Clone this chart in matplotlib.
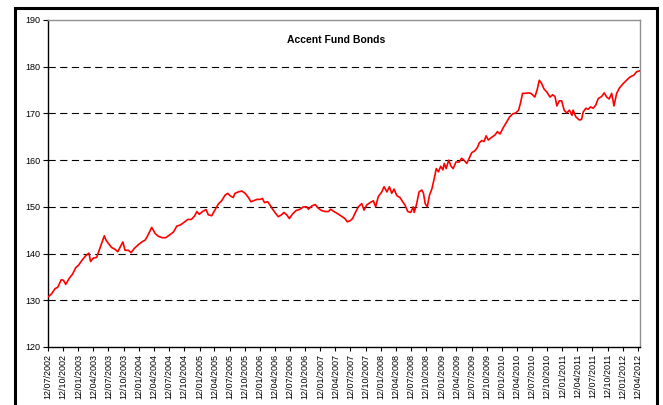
import matplotlib
matplotlib.use("Agg")
import matplotlib.pyplot as plt
from matplotlib.patches import Rectangle
import pandas as pd

title = "Accent Fund Bonds"

dates = [
    "2002-07-12", "2002-08-03", "2002-08-24", "2002-09-09", "2002-09-30", "2002-10-13", "2002-10-27",
    "2002-11-17", "2002-12-07", "2002-12-27", "2003-01-12", "2003-02-05", "2003-02-26", "2003-03-16",
    "2003-03-26", "2003-04-11", "2003-05-02", "2003-05-17", "2003-06-04", "2003-06-17", "2003-06-27",
    "2003-07-11", "2003-07-31", "2003-08-21", "2003-09-06", "2003-09-21", "2003-10-07", "2003-10-20",
    "2003-11-09", "2003-11-26", "2003-12-15", "2004-01-05", "2004-01-30", "2004-02-19", "2004-03-06",
    "2004-03-29", "2004-04-19", "2004-05-08", "2004-06-01", "2004-06-22", "2004-07-12", "2004-08-07",
    "2004-08-28", "2004-09-17", "2004-10-07", "2004-11-02", "2004-11-23", "2004-12-12", "2004-12-27",
    "2005-01-10", "2005-01-30", "2005-02-20", "2005-03-06", "2005-03-26", "2005-04-16", "2005-05-05",
    "2005-05-25", "2005-06-15", "2005-07-01", "2005-07-15", "2005-08-03", "2005-08-14", "2005-09-03",
    "2005-09-24", "2005-10-14", "2005-11-03", "2005-11-18", "2005-12-04", "2005-12-24", "2006-01-13",
    "2006-01-27", "2006-02-08", "2006-02-27", "2006-03-13", "2006-03-29", "2006-04-12", "2006-05-02",
    "2006-05-22", "2006-06-05", "2006-06-22", "2006-07-08", "2006-07-28", "2006-08-17", "2006-09-11",
    "2006-10-01", "2006-10-21", "2006-10-31", "2006-11-21", "2006-12-11", "2006-12-30", "2007-01-20",
    "2007-02-09", "2007-03-02", "2007-03-14", "2007-04-03", "2007-04-23", "2007-05-19", "2007-06-08",
    "2007-06-23", "2007-07-09", "2007-07-25", "2007-08-08", "2007-08-28", "2007-09-18", "2007-10-02",
    "2007-10-18", "2007-11-07", "2007-11-27", "2007-12-11", "2007-12-27", "2008-01-17", "2008-01-31",
    "2008-02-17", "2008-03-03", "2008-03-17", "2008-03-31", "2008-04-17", "2008-05-06", "2008-05-22",
    "2008-06-05", "2008-06-22", "2008-07-10", "2008-07-25", "2008-07-31", "2008-08-15", "2008-08-29",
    "2008-09-15", "2008-09-25", "2008-10-05", "2008-10-18", "2008-10-31", "2008-11-15", "2008-11-29",
    "2008-12-11", "2008-12-24", "2009-01-07", "2009-01-20", "2009-01-28", "2009-02-09", "2009-02-24",
    "2009-03-10", "2009-03-23", "2009-04-09", "2009-04-29", "2009-05-13", "2009-05-27", "2009-06-13",
    "2009-06-28", "2009-07-13", "2009-08-01", "2009-08-16", "2009-08-28", "2009-09-12", "2009-09-26",
    "2009-10-08", "2009-10-21", "2009-11-11", "2009-12-01", "2009-12-15", "2009-12-31", "2010-01-17",
    "2010-02-06", "2010-02-26", "2010-03-17", "2010-04-05", "2010-04-22", "2010-05-04", "2010-05-16",
    "2010-06-05", "2010-06-19", "2010-07-04", "2010-07-15", "2010-07-29", "2010-08-13", "2010-08-25",
    "2010-09-08", "2010-09-23", "2010-10-09", "2010-10-29", "2010-11-14", "2010-11-28", "2010-12-09",
    "2010-12-24", "2011-01-07", "2011-01-22", "2011-02-07", "2011-02-23", "2011-03-10", "2011-03-17",
    "2011-04-02", "2011-04-23", "2011-05-07", "2011-05-17", "2011-06-02", "2011-06-16", "2011-07-01",
    "2011-07-16", "2011-08-01", "2011-08-16", "2011-09-05", "2011-09-21", "2011-10-06", "2011-10-21",
    "2011-11-05", "2011-11-19", "2011-12-05", "2011-12-21", "2012-01-11", "2012-01-31", "2012-02-20",
    "2012-03-06", "2012-03-18", "2012-04-03", "2012-04-20",
]

values = [
    130.7, 131.4, 132.5, 132.8, 134.4, 134.3, 133.4,
    134.7, 135.6, 137.0, 137.5, 138.7, 139.6, 140.1,
    138.3, 139.0, 139.2, 140.7, 142.5, 143.8, 142.9,
    142.2, 141.3, 140.9, 140.4, 141.4, 142.5, 140.7,
    140.7, 140.2, 141.1, 141.8, 142.5, 142.9, 143.9,
    145.6, 144.3, 143.7, 143.4, 143.4, 143.9, 144.6,
    145.9, 146.1, 146.6, 147.3, 147.3, 148.0, 149.0,
    148.4, 149.0, 149.4, 148.3, 148.1, 149.4, 150.6,
    151.3, 152.5, 152.9, 152.4, 152.0, 152.9, 153.2,
    153.4, 152.9, 152.0, 151.1, 151.3, 151.6, 151.6,
    151.8, 150.9, 151.1, 150.4, 149.5, 148.8, 147.9,
    148.3, 148.8, 148.3, 147.5, 148.5, 149.2, 149.5,
    150.0, 150.0, 149.5, 150.2, 150.5, 149.7, 149.2,
    149.0, 149.0, 149.5, 149.0, 148.6, 148.0, 147.5,
    146.8, 147.0, 147.5, 148.6, 150.0, 150.7, 149.3,
    150.4, 150.9, 151.3, 150.0, 152.2, 153.2, 154.3,
    153.2, 154.3, 152.9, 153.8, 152.4, 152.0, 151.1,
    150.4, 149.0, 148.8, 150.0, 148.8, 150.7, 153.2,
    153.6, 152.9, 150.7, 150.0, 152.5, 153.9, 156.1,
    158.2, 157.5, 158.7, 157.9, 159.3, 158.2, 160.0,
    158.7, 158.2, 159.6, 159.6, 160.4, 160.0, 159.3,
    160.4, 161.6, 162.0, 162.7, 163.7, 164.2, 164.0,
    165.2, 164.3, 164.9, 165.4, 166.1, 165.6, 166.8,
    168.0, 169.2, 169.9, 170.1, 170.7, 172.3, 174.3,
    174.3, 174.4, 174.3, 174.0, 173.5, 175.2, 177.1,
    176.4, 175.2, 174.6, 173.5, 174.0, 173.6, 171.6,
    172.7, 172.7, 170.7, 170.1, 170.7, 169.6, 170.7,
    169.3, 168.6, 168.7, 170.3, 171.1, 170.9, 171.4,
    171.1, 171.8, 173.2, 173.6, 174.4, 173.5, 173.1,
    174.3, 171.6, 174.3, 175.4, 176.3, 177.0, 177.7,
    178.0, 178.2, 178.9, 179.1,
]

tick_labels = [
    "12/07/2002", "12/10/2002",
    "12/01/2003", "12/04/2003", "12/07/2003", "12/10/2003",
    "12/01/2004", "12/04/2004", "12/07/2004", "12/10/2004",
    "12/01/2005", "12/04/2005", "12/07/2005", "12/10/2005",
    "12/01/2006", "12/04/2006", "12/07/2006", "12/10/2006",
    "12/01/2007", "12/04/2007", "12/07/2007", "12/10/2007",
    "12/01/2008", "12/04/2008", "12/07/2008", "12/10/2008",
    "12/01/2009", "12/04/2009", "12/07/2009", "12/10/2009",
    "12/01/2010", "12/04/2010", "12/07/2010", "12/10/2010",
    "12/01/2011", "12/04/2011", "12/07/2011", "12/10/2011",
    "12/01/2012", "12/04/2012",
]
y_ticks = [120, 130, 140, 150, 160, 170, 180, 190]

plt.rcParams["font.family"] = ["Liberation Sans", "DejaVu Sans"]

fig = plt.figure(figsize=(6.63, 4.05), dpi=100)
W, H = 663, 405

# outer chart border
fig.patches.append(Rectangle((15 / W, -0.05), (657 - 15) / W, 1.05 - 8 / H,
                             transform=fig.transFigure, fill=False,
                             edgecolor="black", linewidth=2.2, zorder=0))

ax = fig.add_axes([48 / W, 1 - 347 / H, (640 - 48) / W, (347 - 20) / H])

x = pd.to_datetime(dates)
ax.plot(x, values, color="#ff0000", linewidth=1.2, zorder=3)

ax.set_ylim(120, 190)
ax.set_yticks(y_ticks)
ax.set_yticklabels([str(v) for v in y_ticks], fontsize=6.5)
for v in y_ticks[1:-1]:
    ax.axhline(v, color="black", linewidth=0.8, dashes=(6.5, 4), zorder=1)

tick_dates = pd.to_datetime(tick_labels, format="%d/%m/%Y")
ax.set_xlim(pd.Timestamp("2002-07-12"), pd.Timestamp("2012-04-24"))
ax.set_xticks(tick_dates)
ax.set_xticklabels(tick_labels, rotation=90, fontsize=6.5)

ax.tick_params(axis="y", direction="out", length=3.5, width=0.8, pad=2, colors="black")
ax.tick_params(axis="x", direction="out", length=3, width=0.8, pad=2, colors="black")

for side in ("top", "right"):
    ax.spines[side].set_color("#909090")
    ax.spines[side].set_linewidth(1.0)
for side in ("left", "bottom"):
    ax.spines[side].set_color("black")
    ax.spines[side].set_linewidth(1.0)

fig.text(336 / W, 1 - 40 / H, title, ha="center", va="center",
         fontsize=7.5, fontweight="bold")

fig.savefig("out.png", dpi=100)
